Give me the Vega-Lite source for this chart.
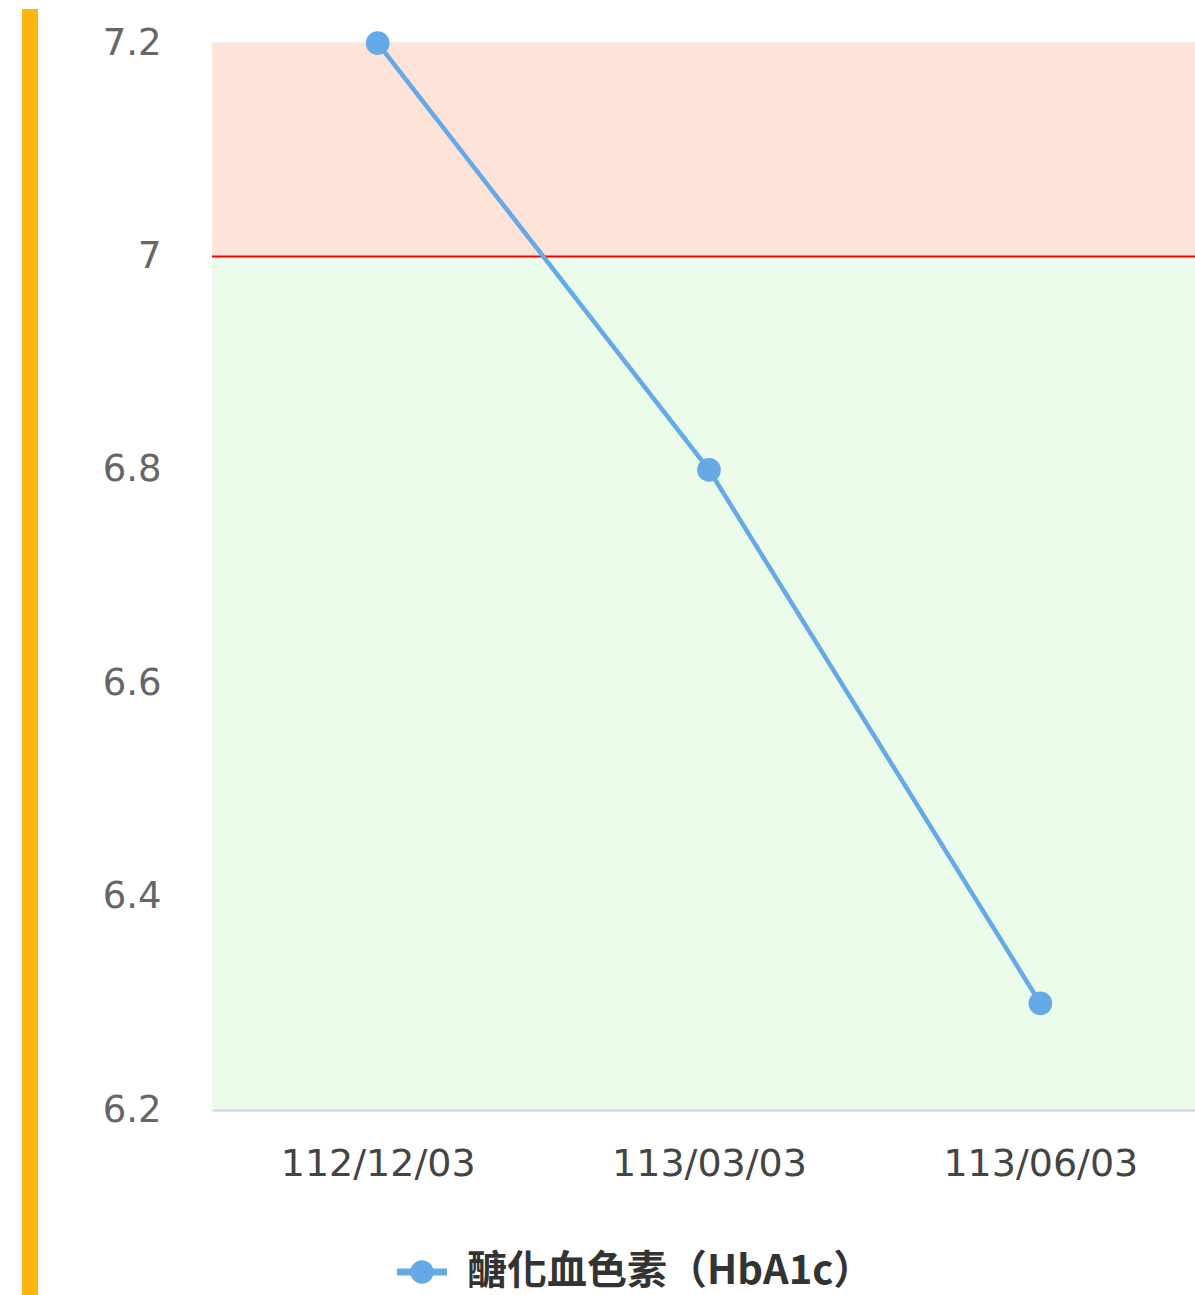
{
  "$schema": "https://vega.github.io/schema/vega-lite/v6.json",
  "padding": {"left": 22, "top": 9, "right": 0, "bottom": 0},
  "background": "#ffffff",
  "spacing": 174,
  "bounds": "flush",
  "config": {"view": {"stroke": null}, "font": "DejaVu Sans"},
  "hconcat": [
    {
      "width": 16,
      "height": 1286,
      "data": {"values": [{"accent": "left"}]},
      "mark": {"type": "rect", "color": "#FDB40F"},
      "encoding": {}
    },
    {
      "width": 994,
      "height": 1101,
      "layer": [
        {
          "data": {"values": [{"lo": 7.0, "hi": 7.2}]},
          "mark": {"type": "rect", "color": "#FEE3D8"},
          "encoding": {
            "y": {"field": "lo", "type": "quantitative", "scale": {"domain": [6.2, 7.232], "nice": false, "zero": false},
              "axis": {"values": [6.2, 6.4, 6.6, 6.8, 7.0, 7.2], "format": "~g", "title": null, "domain": false, "ticks": false,
                "labelFontSize": 37, "labelColor": "#666666", "labelPadding": 51, "grid": true, "gridColor": "#e6e6e6", "gridWidth": 2}},
            "y2": {"field": "hi"}
          }
        },
        {
          "data": {"values": [{"lo": 6.2, "hi": 7.0}]},
          "mark": {"type": "rect", "color": "#EBFDEA"},
          "encoding": {
            "y": {"field": "lo", "type": "quantitative"},
            "y2": {"field": "hi"}
          }
        },
        {
          "data": {"values": [{"target": 7.0}]},
          "mark": {"type": "rule", "color": "#FF0000", "strokeWidth": 2},
          "encoding": {"y": {"field": "target", "type": "quantitative"}}
        },
        {
          "data": {"values": [
            {"date": "112/12/03", "value": 7.2, "series": "醣化血色素（HbA1c）"},
            {"date": "113/03/03", "value": 6.8, "series": "醣化血色素（HbA1c）"},
            {"date": "113/06/03", "value": 6.3, "series": "醣化血色素（HbA1c）"}
          ]},
          "encoding": {
            "x": {"field": "date", "type": "ordinal", "sort": null, "scale": {"type": "point", "padding": 0.5},
              "axis": {"title": null, "labelAngle": 0, "ticks": false, "domain": true, "domainColor": "#ccd6eb", "domainWidth": 2,
                "labelFontSize": 38, "labelColor": "#444444", "labelPadding": 35, "labelLimit": 1000, "grid": false, "zindex": 1}},
            "y": {"field": "value", "type": "quantitative"}
          },
          "layer": [
            {"mark": {"type": "line", "color": "#66A9E7", "strokeWidth": 4.5}},
            {
              "mark": {"type": "point", "filled": true, "opacity": 1, "size": 560, "shape": "circle"},
              "encoding": {
                "color": {"field": "series", "type": "nominal", "scale": {"range": ["#66A9E7"]},
                  "legend": {"title": null, "orient": "none", "legendX": 375, "legendY": 1238,
                    "symbolType": "M-1,-0.14H1V0.14H-1Z M-0.47,0 A0.47,0.47 0 1,1 0.47,0 A0.47,0.47 0 1,1 -0.47,0Z",
                    "symbolSize": 2500, "symbolStrokeWidth": 0, "symbolOpacity": 1,
                    "labelFont": "Noto Sans CJK TC", "labelFontSize": 40, "labelFontWeight": "bold", "labelColor": "#333333", "labelOffset": 20, "labelLimit": 1000}}
              }
            }
          ]
        }
      ]
    }
  ]
}
